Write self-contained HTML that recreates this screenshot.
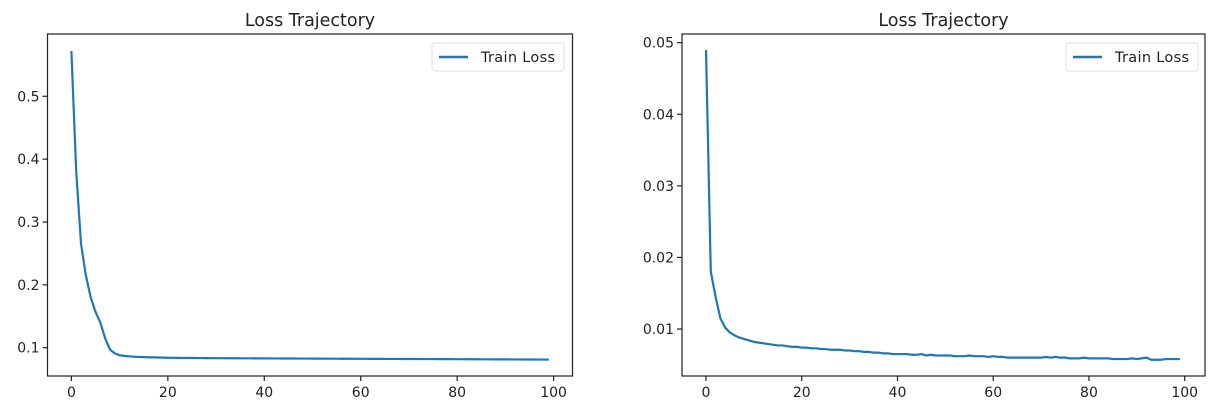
<!DOCTYPE html>
<html><head><meta charset="utf-8">
<style>
body{margin:0;background:#fff;width:1215px;height:413px;overflow:hidden;font-family:"DejaVu Sans","Liberation Sans",sans-serif;}
text{font-family:"DejaVu Sans","Liberation Sans",sans-serif;fill:#222;}
</style></head>
<body>
<svg id="svg" width="1215" height="413"></svg>
<script>
const epochs = Array.from({length:100},(_,i)=>i);
const leftLoss = [0.572,0.38,0.265,0.215,0.18,0.157,0.14,0.115,0.097,0.091,
0.088,0.087,0.0862,0.0857,0.0853,0.085,0.0848,0.0846,0.0844,0.0842,
0.084,0.0839,0.0838,0.0837,0.0836,0.0836,0.0835,0.0835,0.0834,0.0834,
0.0833,0.0833,0.0832,0.0832,0.0832,0.0831,0.0831,0.0831,0.083,0.083,
0.083,0.0829,0.0829,0.0829,0.0828,0.0828,0.0828,0.0827,0.0827,0.0827,
0.0826,0.0826,0.0826,0.0825,0.0825,0.0825,0.0824,0.0824,0.0824,0.0823,
0.0823,0.0823,0.0822,0.0822,0.0822,0.0821,0.0821,0.0821,0.0821,0.082,
0.082,0.082,0.082,0.0819,0.0819,0.0819,0.0818,0.0818,0.0818,0.0817,
0.0817,0.0817,0.0816,0.0816,0.0816,0.0815,0.0815,0.0815,0.0814,0.0814,
0.0814,0.0813,0.0813,0.0813,0.0812,0.0812,0.0812,0.0811,0.0811,0.081];
const rightLoss = [0.049,0.018,0.0145,0.0115,0.0102,0.0095,0.0091,0.0088,0.0086,0.0084,
0.0082,0.0081,0.008,0.0079,0.0078,0.0077,0.0077,0.0076,0.0075,0.0075,
0.0074,0.0074,0.0073,0.0073,0.0072,0.0072,0.0071,0.0071,0.0071,0.007,
0.007,0.0069,0.0069,0.0068,0.0068,0.0067,0.0067,0.0066,0.0066,0.0065,
0.0065,0.0065,0.0065,0.0064,0.0064,0.0065,0.0063,0.0064,0.0063,0.0063,
0.0063,0.0063,0.0062,0.0062,0.0062,0.0063,0.0062,0.0062,0.0062,0.0061,
0.0062,0.0061,0.0061,0.006,0.006,0.006,0.006,0.006,0.006,0.006,
0.006,0.0061,0.006,0.0061,0.006,0.006,0.0059,0.0059,0.0059,0.006,
0.0059,0.0059,0.0059,0.0059,0.0059,0.0058,0.0058,0.0058,0.0058,0.0059,
0.0058,0.0059,0.006,0.0057,0.0057,0.0057,0.0058,0.0058,0.0058,0.0058];
const xTicks = [0,20,40,60,80,100];
const leftYTicks = [0.1,0.2,0.3,0.4,0.5];
const leftYLabels = ["0.1","0.2","0.3","0.4","0.5"];
const rightYTicks = [0.01,0.02,0.03,0.04,0.05];
const rightYLabels = ["0.01","0.02","0.03","0.04","0.05"];

const NS="http://www.w3.org/2000/svg";
const svg=document.getElementById('svg');
function mk(tag,attrs,parent){const e=document.createElementNS(NS,tag);for(const k in attrs)e.setAttribute(k,attrs[k]);(parent||svg).appendChild(e);return e;}

function panel(cfg){
  const g=mk('g',{});
  
  
  const X=v=>cfg.x0px+(v-0)*(cfg.x100px-cfg.x0px)/100;
  const Y=v=>cfg.yApx+(v-cfg.yA)*(cfg.yBpx-cfg.yApx)/(cfg.yB-cfg.yA);
  const t=mk('text',{x:(cfg.L+cfg.R)/2,y:26,'text-anchor':'middle','font-size':'17.5px'},g);
  t.textContent='Loss Trajectory';
  
  
  let d='';
  cfg.data.forEach((v,i)=>{d+=(i?'L':'M')+X(epochs[i]).toFixed(2)+','+Y(v).toFixed(2);});
  const p=mk('path',{d:d,fill:'none',stroke:'#1f77b4','stroke-width':2.2,'stroke-linejoin':'round'},g);
  
  
  const f=mk('rect',{x:cfg.L,y:cfg.T,width:cfg.R-cfg.L,height:cfg.B-cfg.T,fill:'none',stroke:'#222','stroke-width':1.2},g);
  
  
  xTicks.forEach(v=>{
    const x=X(v);
    mk('line',{x1:x,x2:x,y1:cfg.B,y2:cfg.B+5,stroke:'#222','stroke-width':1.2},g);
    const tx=mk('text',{x:x,y:cfg.B+21,'text-anchor':'middle','font-size':'14px'},g);
    tx.textContent=v;
    
    
  });
  cfg.yTicks.forEach((v,i)=>{
    const y=Y(v);
    mk('line',{x1:cfg.L-5,x2:cfg.L,y1:y,y2:y,stroke:'#222','stroke-width':1.2},g);
    const ty=mk('text',{x:cfg.L-8,y:y+5,'text-anchor':'end','font-size':'14px'},g);
    ty.textContent=cfg.yLabels[i];
    
    
  });
  const lg=mk('g',{},g);
  
  
  mk('rect',{x:cfg.legX,y:43,width:132,height:28,rx:3,fill:'#fff',stroke:'#ddd'},lg);
  mk('line',{x1:cfg.legX+7,x2:cfg.legX+36,y1:57,y2:57,stroke:'#1f77b4','stroke-width':2.4},lg);
  const lt=mk('text',{x:cfg.legX+49,y:62,'font-size':'14.5px','textLength':74},lg);
  lt.textContent='Train Loss';
  
  
}
panel({name:'left-chart',L:47.5,R:572.5,T:34,B:376,x0px:71.4,x100px:553.6,yA:0.1,yApx:347.7,yB:0.5,yBpx:96.3,data:leftLoss,yTicks:leftYTicks,yLabels:leftYLabels,legX:432});
panel({name:'right-chart',L:682,R:1205,T:34,B:376,x0px:706,x100px:1184.7,yA:0.01,yApx:329,yB:0.05,yBpx:42.7,data:rightLoss,yTicks:rightYTicks,yLabels:rightYLabels,legX:1066});
</script>
</body></html>
